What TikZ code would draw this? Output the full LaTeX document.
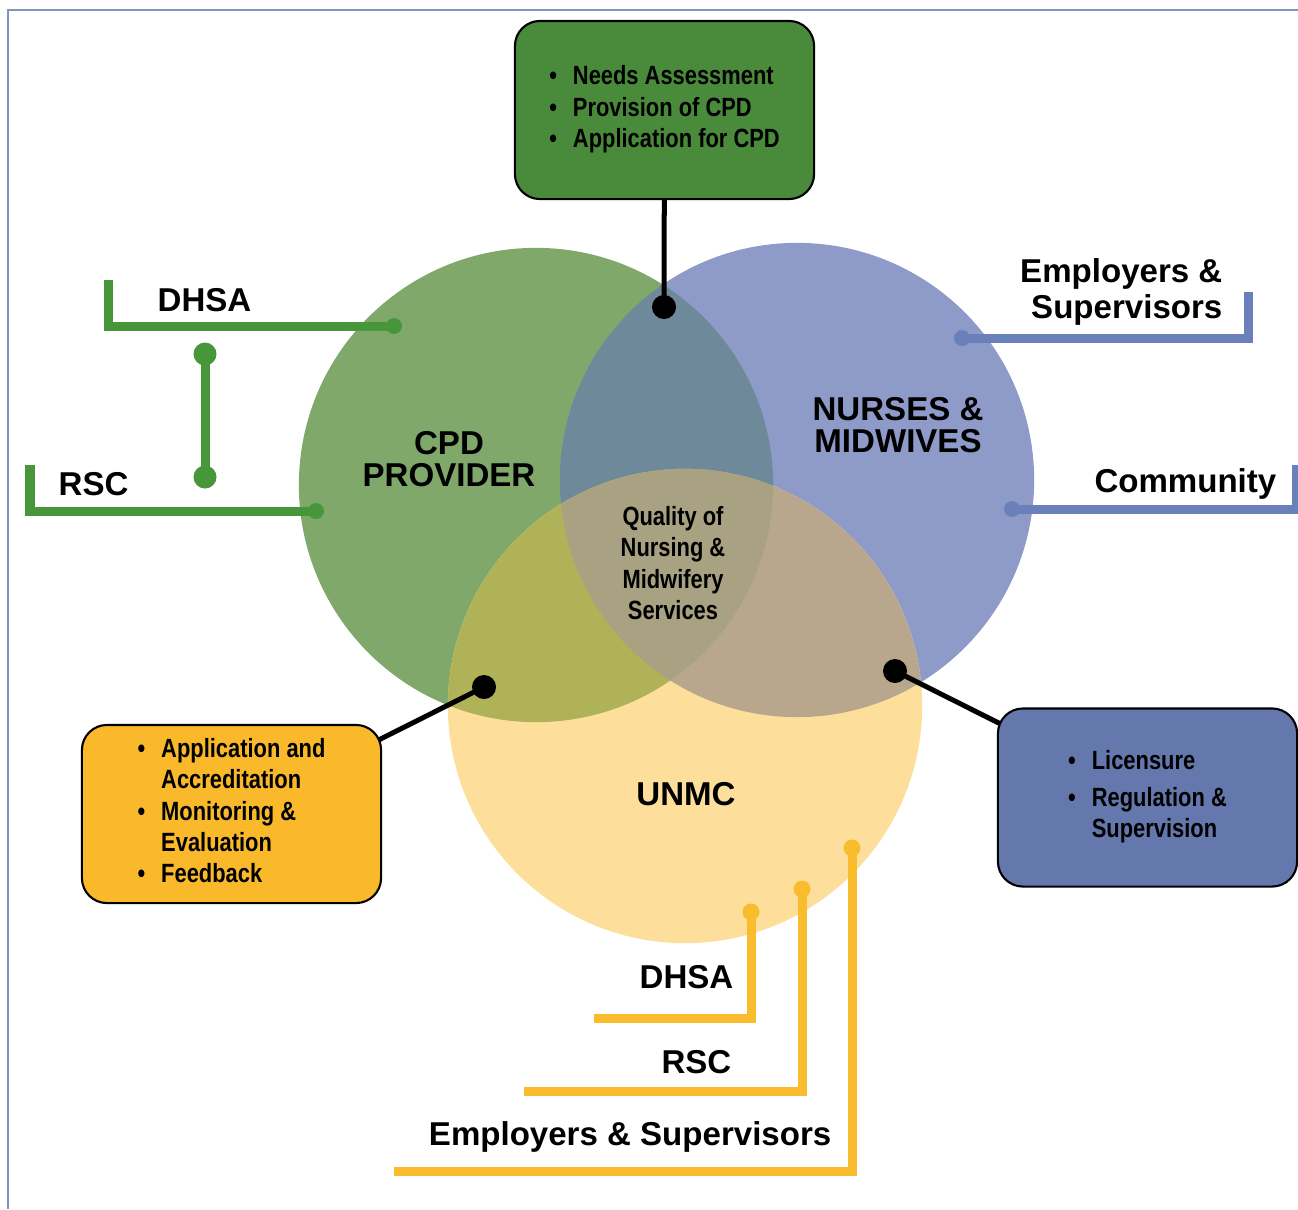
\documentclass[tikz,border=0pt]{standalone}
\usepackage{fontspec}
\setmainfont{Liberation Sans}
\newfontfamily\narrowfont[FakeStretch=0.83]{Liberation Sans}
\usetikzlibrary{positioning,calc}

\definecolor{cpdgreen}{HTML}{80A86A}
\definecolor{nursblue}{HTML}{8E9AC8}
\definecolor{unmcyellow}{HTML}{FDDF9B}
\definecolor{gbmix}{HTML}{6E8999}
\definecolor{gymix}{HTML}{B0B258}
\definecolor{bymix}{HTML}{B8A78D}
\definecolor{allmix}{HTML}{A8A282}
\definecolor{boxgreen}{HTML}{4A8B3B}
\definecolor{boxorange}{HTML}{F9B92A}
\definecolor{boxblue}{HTML}{6578AE}
\definecolor{linegreen}{HTML}{47973A}
\definecolor{lineblue}{HTML}{6A80BA}
\definecolor{lineyellow}{HTML}{F8BC2C}
\definecolor{framecol}{HTML}{7F96B8}

\begin{document}
\begin{tikzpicture}[x=0.01cm,y=-0.01cm,
    biglabel/.style={font=\bfseries\fontsize{9.4}{9.2}\selectfont, inner sep=0pt, align=center},
    smalltext/.style={font=\narrowfont\bfseries\fontsize{7.5}{8.9}\selectfont, inner sep=0pt},
    infobox/.style={draw=black, line width=0.6pt, rounded corners=0.25cm,
        minimum width=2.99cm, minimum height=1.78cm, inner sep=0pt,
        font=\narrowfont\bfseries\fontsize{7.5}{8.9}\selectfont},
    connector/.style={line width=0.05cm, black},
    legline/.style={line width=0.09cm},
]
\useasboundingbox (0,0) rectangle (1298,1209);
\def\rad{2.37cm}

% page frame
\draw[framecol, line width=0.6pt] (8,1209) -- (8,10) -- (1298,10);

% the three circles
\coordinate (cpd) at (536,485);
\coordinate (nur) at (797,480);
\coordinate (unmc) at (685,706);
\fill[cpdgreen] (cpd) circle[radius=\rad];
\fill[nursblue] (nur) circle[radius=\rad];
\fill[unmcyellow] (unmc) circle[radius=\rad];
\begin{scope}
    \clip (cpd) circle[radius=\rad];
    \fill[gbmix] (nur) circle[radius=\rad];
    \fill[gymix] (unmc) circle[radius=\rad];
\end{scope}
\begin{scope}
    \clip (nur) circle[radius=\rad];
    \fill[bymix] (unmc) circle[radius=\rad];
    \clip (cpd) circle[radius=\rad];
    \fill[allmix] (unmc) circle[radius=\rad];
\end{scope}

\node[biglabel] (cpdtxt) at (449,459) {CPD\\PROVIDER};
\node[biglabel] (nurtxt) at (898,425) {NURSES \&\\MIDWIVES};
\node[biglabel] (unmctxt) at (686,794) {UNMC};
\node[smalltext, align=center] (quality) at (673,563) {Quality of\\Nursing \&\\Midwifery\\Services};

% role boxes and their connectors
\coordinate (topdot) at (664,307);
\coordinate (leftdot) at (484,687);
\coordinate (rightdot) at (895,671);
\coordinate (needspos) at (664.5,110);
\coordinate (accredpos) at (231.5,814);
\coordinate (licpos) at (1147.5,797.5);
\draw[connector] (topdot) -- (needspos);
\draw[connector] (leftdot) -- (accredpos);
\draw[connector] (rightdot) -- (licpos);

\node[infobox, fill=boxgreen] (needs) at (needspos) {%
    \begin{tabular}{@{}l@{\hspace{0.16cm}}l@{}}
    \textbullet & Needs Assessment\\
    \textbullet & Provision of CPD\\
    \textbullet & Application for CPD
    \end{tabular}};
\node[infobox, fill=boxorange] (accred) at (accredpos) {%
    \begin{tabular}{@{}l@{\hspace{0.16cm}}l@{}}
    \textbullet & Application and\\
                & Accreditation\\
    \textbullet & Monitoring \&\\
                & Evaluation\\
    \textbullet & Feedback
    \end{tabular}};
\node[infobox, fill=boxblue] (lic) at (licpos) {%
    \begin{tabular}{@{}l@{\hspace{0.16cm}}l@{}}
    \textbullet & Licensure\\[1.5pt]
    \textbullet & Regulation \&\\
                & Supervision
    \end{tabular}};

\foreach \d in {topdot,leftdot,rightdot}
    \fill[black] (\d) circle[radius=0.12cm];

% stakeholders of the CPD provider
\coordinate (gdhsa) at (394,326);
\coordinate (gdhsaend) at (108,280);
\coordinate (grsc) at (316,511);
\coordinate (grscend) at (30,465);
\coordinate (glinktop) at (205,354);
\coordinate (glinkbot) at (205,477);
\draw[legline, linegreen] (gdhsa) -| (gdhsaend);
\draw[legline, linegreen] (grsc) -| (grscend);
\draw[legline, linegreen] (glinktop) -- (glinkbot);
\foreach \d in {gdhsa,grsc}
    \fill[linegreen] (\d) circle[radius=0.08cm];
\foreach \d in {glinktop,glinkbot}
    \fill[linegreen] (\d) circle[radius=0.115cm];
\node[biglabel, anchor=west] (gdhsatxt) at (157,300) {DHSA};
\node[biglabel, anchor=west] (grsctxt) at (58,484) {RSC};

% stakeholders of the nurses and midwives
\coordinate (bemp) at (962,338);
\coordinate (bempend) at (1248,292);
\coordinate (bcom) at (1012,509);
\coordinate (bcomend) at (1296,465);
\draw[legline, lineblue] (bemp) -| (bempend);
\draw[legline, lineblue] (bcom) -| (bcomend);
\foreach \d in {bemp,bcom}
    \fill[lineblue] (\d) circle[radius=0.08cm];
\node[biglabel, anchor=east, align=right, font=\bfseries\fontsize{9.4}{10.2}\selectfont]
    (bemptxt) at (1223,292) {Employers \&\\Supervisors};
\node[biglabel, anchor=east] (bcomtxt) at (1277,484) {Community};

% stakeholders of UNMC
\coordinate (ydhsa) at (751,912);
\coordinate (ydhsaend) at (594,1018);
\coordinate (yrsc) at (802,889);
\coordinate (yrscend) at (524,1091);
\coordinate (yemp) at (852,848);
\coordinate (yempend) at (394,1171);
\draw[legline, lineyellow] (ydhsa) |- (ydhsaend);
\draw[legline, lineyellow] (yrsc) |- (yrscend);
\draw[legline, lineyellow] (yemp) |- (yempend);
\foreach \d in {ydhsa,yrsc,yemp}
    \fill[lineyellow] (\d) circle[radius=0.085cm];
\node[biglabel, anchor=east] (ydhsatxt) at (734,977) {DHSA};
\node[biglabel, anchor=east] (yrsctxt) at (732,1062) {RSC};
\node[biglabel, anchor=east] (yemptxt) at (832,1137) {Employers \& Supervisors};
\end{tikzpicture}
\end{document}
